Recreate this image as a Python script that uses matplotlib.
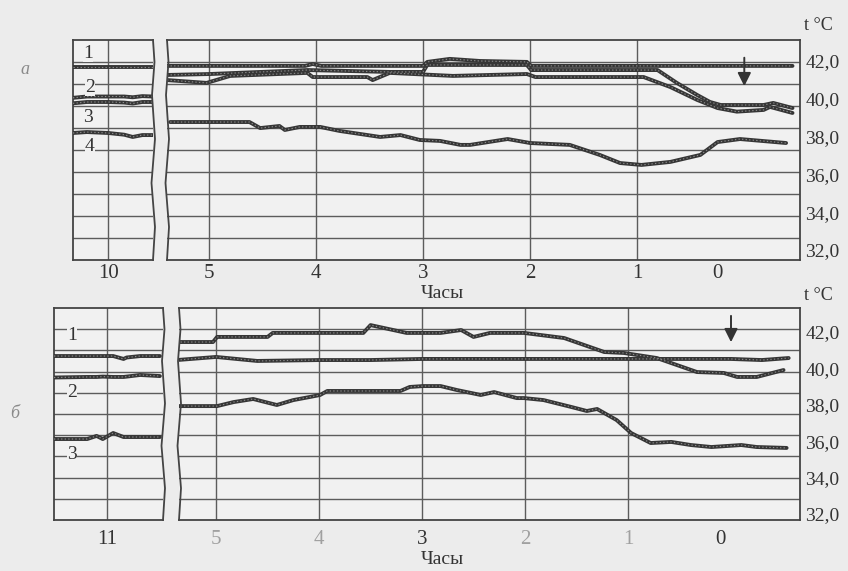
import numpy as np
import matplotlib
matplotlib.use('Agg')
import matplotlib.pyplot as plt

plt.rcParams['font.family'] = ['Liberation Serif', 'DejaVu Serif']

W, H = 848, 571
BG = '#ececec'
PAPER = '#f1f1f1'
INK = '#363636'
GRID = '#5c5c5c'

# ── Panel а: strip at 10 h ──────────────────────────────────────────
A_L_HOURS = [10.33, 10.20, 10.00, 9.85, 9.77, 9.68, 9.58]
A_L_T1 = [41.68, 41.68, 41.68, 41.68, 41.68, 41.68, 41.68]
A_L_T2 = [40.05, 40.12, 40.12, 40.12, 40.08, 40.14, 40.12]
A_L_T3 = [39.76, 39.83, 39.83, 39.80, 39.75, 39.83, 39.83]
A_L_T4 = [38.19, 38.24, 38.19, 38.10, 37.98, 38.08, 38.08]

# ── Panel а: last 5 h ───────────────────────────────────────────────
A_T1_H = [5.39, 4.10, 4.03, 3.95, 3.00, 2.96, 2.75, 2.47, 2.03, 1.99, 1.00, 0.00, -0.45]
A_T1_V = [41.74, 41.74, 41.84, 41.74, 41.74, 41.95, 42.11, 42.00, 41.95, 41.74, 41.74, 41.74, 41.74]
A_T2_H = [5.39, 4.99, 4.08, 3.31, 3.00, 2.96, 2.50, 2.03, 1.99, 0.81, 0.63, 0.44,
          0.32, 0.22, -0.18, -0.27, -0.45]
A_T2_V = [41.26, 41.31, 41.52, 41.42, 41.42, 41.79, 41.79, 41.79, 41.52, 41.52, 40.84, 40.20,
          39.83, 39.67, 39.67, 39.78, 39.51]
A_T3_H = [5.39, 5.02, 4.80, 4.08, 4.03, 3.52, 3.47, 3.31, 2.72, 2.03, 1.95, 0.94, 0.69,
          0.44, 0.25, 0.07, -0.18, -0.24, -0.45]
A_T3_V = [40.99, 40.84, 41.21, 41.37, 41.15, 41.15, 40.99, 41.37, 41.21, 41.31, 41.15, 41.15, 40.62,
          39.94, 39.51, 39.32, 39.41, 39.57, 39.25]
A_T4_H = [5.36, 4.62, 4.52, 4.34, 4.29, 4.15, 3.96, 3.78, 3.40, 3.21, 3.03, 2.84, 2.65, 2.56,
          2.21, 2.00, 1.63, 1.35, 1.16, 0.96, 0.69, 0.41, 0.25, 0.04, -0.39]
A_T4_V = [38.77, 38.77, 38.45, 38.56, 38.35, 38.51, 38.51, 38.30, 37.98, 38.08, 37.82, 37.77, 37.56, 37.56,
          37.87, 37.66, 37.56, 37.03, 36.60, 36.50, 36.66, 37.03, 37.71, 37.87, 37.66]

# ── Panel б: strip at 11 h ──────────────────────────────────────────
B_L_HOURS = [11.51, 11.19, 11.10, 11.04, 10.94, 10.84, 10.81, 10.68, 10.49]
B_L_T1 = [40.68, 40.68, 40.68, 40.68, 40.68, 40.52, 40.60, 40.68, 40.68]
B_L_T2 = [39.50, 39.53, 39.53, 39.55, 39.53, 39.53, 39.55, 39.64, 39.58]
B_L_T3 = [36.12, 36.12, 36.29, 36.12, 36.45, 36.23, 36.23, 36.23, 36.23]

# ── Panel б: last 5 h ───────────────────────────────────────────────
B_T1_H = [5.38, 5.03, 4.99, 4.50, 4.45, 3.57, 3.50, 3.28, 3.15, 2.82, 2.62, 2.50, 2.34,
          2.01, 1.62, 1.23, 1.04, 0.72, 0.33, 0.07, -0.06, -0.25, -0.51]
B_T1_V = [41.45, 41.45, 41.73, 41.73, 41.95, 41.95, 42.38, 42.11, 41.95, 41.95, 42.11, 41.73, 41.95,
          41.95, 41.67, 40.90, 40.85, 40.57, 39.80, 39.75, 39.53, 39.53, 39.91]
B_T2_H = [5.38, 5.00, 4.60, 4.00, 3.50, 3.00, 2.00, 1.00, 0.00, -0.30, -0.56]
B_T2_V = [40.46, 40.63, 40.41, 40.46, 40.46, 40.52, 40.52, 40.52, 40.52, 40.46, 40.57]
B_T3_H = [5.38, 4.99, 4.83, 4.64, 4.41, 4.25, 4.09, 3.99, 3.92, 3.21, 3.12, 2.99, 2.82, 2.66,
          2.43, 2.30, 2.08, 2.01, 1.82, 1.55, 1.40, 1.30, 1.11, 0.97, 0.78, 0.58, 0.39, 0.19,
          -0.10, -0.25, -0.54]
B_T3_V = [37.93, 37.93, 38.15, 38.32, 37.99, 38.26, 38.43, 38.54, 38.76, 38.76, 38.98, 39.03, 39.03, 38.81,
          38.54, 38.70, 38.37, 38.37, 38.26, 37.88, 37.66, 37.77, 37.16, 36.45, 35.90, 35.96, 35.79, 35.68,
          35.79, 35.68, 35.63]

# ── Axis labels ─────────────────────────────────────────────────────
T_TICKS = [42, 40, 38, 36, 34, 32]
T_LABELS = ['42,0', '40,0', '38,0', '36,0', '34,0', '32,0']
HOUR_LABELS = ['5', '4', '3', '2', '1', '0']
A_HOUR_POS = [5, 4, 3, 2, 1, 0.25]
B_HOUR_POS = [5, 4, 3, 2, 1, 0.1]
A_EVENT = (0.0, 42.32, 40.52)   # arrow: hour, from, to
B_EVENT = (0.0, 43.04, 41.29)


def px_axes(x0, y0, x1, y1):
    return fig.add_axes([x0 / W, 1 - y1 / H, (x1 - x0) / W, (y1 - y0) / H])


def trace(ax, h, v):
    ax.plot(h, v, color=INK, lw=2.8, solid_capstyle='round', zorder=3)
    ax.plot(h, v, color='#8c8c8c', lw=0.8, ls=(0, (1.2, 2.0)), zorder=4)


def frame(ax, xlim, ylim, vlines, cut):
    ax.set_facecolor(PAPER)
    ax.set_xlim(*xlim)
    ax.set_ylim(*ylim)
    for y in np.linspace(ylim[0], ylim[1], 11)[1:-1]:
        ax.axhline(y, color=GRID, lw=1.0, zorder=1)
    for x in vlines:
        ax.axvline(x, color=GRID, lw=1.0, zorder=1)
    for s in ax.spines.values():
        s.set_color('#444444')
        s.set_linewidth(1.3)
    ax.spines[cut].set_visible(False)
    # torn edge of the strip
    wpx = ax.get_position().width * W
    ys = [0.0, 0.15, 0.35, 0.55, 0.75, 0.9, 1.0]
    offs = [0, 2, -1.5, 2, -1, 1.5, 0]
    base = 1.0 if cut == 'right' else 0.0
    ax.plot([base + o / wpx for o in offs], ys, color='#444444', lw=1.3,
            transform=ax.transAxes, clip_on=False, zorder=5)
    ax.tick_params(axis='both', length=0)
    ax.set_yticks([])


fig = plt.figure(figsize=(W / 100, H / 100), dpi=100)
fig.patch.set_facecolor(BG)

# ── Panel а ─────────────────────────────────────────────────────────
ylim_a = (31.47, 43.11)
axl = px_axes(73, 40, 153, 260)
axr = px_axes(167, 40, 800, 260)
frame(axl, (10.33, 9.58), ylim_a, [10], 'right')
frame(axr, (5.39, -0.52), ylim_a, [5, 4, 3, 2, 1], 'left')
for t in (A_L_T1, A_L_T2, A_L_T3, A_L_T4):
    trace(axl, A_L_HOURS, t)
for h, v in ((A_T1_H, A_T1_V), (A_T2_H, A_T2_V), (A_T3_H, A_T3_V), (A_T4_H, A_T4_V)):
    trace(axr, h, v)
axl.set_xticks([10], ['10'])
axr.set_xticks(A_HOUR_POS, HOUR_LABELS)
for ax in (axl, axr):
    ax.tick_params(axis='x', labelsize=15, pad=3, colors='#333333')
axr.yaxis.tick_right()
axr.set_yticks(T_TICKS, T_LABELS)
axr.tick_params(axis='y', length=0, pad=4, labelsize=14, colors='#333333')
axr.annotate('', xy=(A_EVENT[0], A_EVENT[2]), xytext=(A_EVENT[0], A_EVENT[1]),
             arrowprops=dict(arrowstyle='-|>', color='#333333', lw=1.4, mutation_scale=20),
             zorder=6)
for lab, (fx, fy) in zip('1234', [(0.125, 0.94), (0.15, 0.785), (0.125, 0.65), (0.15, 0.515)]):
    axl.text(fx, fy, lab, transform=axl.transAxes, fontsize=14, color='#333333',
             ha='left', va='center', zorder=7,
             bbox=dict(fc=PAPER, ec='none', pad=0.3))

# ── Panel б ─────────────────────────────────────────────────────────
ylim_b = (31.67, 43.32)
bxl = px_axes(54, 308, 163, 520)
bxr = px_axes(179, 308, 800, 520)
frame(bxl, (11.51, 10.46), ylim_b, [11], 'right')
frame(bxr, (5.36, -0.67), ylim_b, [5, 4, 3, 2, 1], 'left')
for t in (B_L_T1, B_L_T2, B_L_T3):
    trace(bxl, B_L_HOURS, t)
for h, v in ((B_T1_H, B_T1_V), (B_T2_H, B_T2_V), (B_T3_H, B_T3_V)):
    trace(bxr, h, v)
bxl.set_xticks([11], ['11'])
bxr.set_xticks(B_HOUR_POS, HOUR_LABELS)
for ax in (bxl, bxr):
    ax.tick_params(axis='x', labelsize=15, pad=7, colors='#333333')
# faded print on some hour labels
for lbl in bxr.get_xticklabels():
    if lbl.get_text() in ('5', '4', '2', '1'):
        lbl.set_color('#a0a0a0')
bxr.yaxis.tick_right()
bxr.set_yticks(T_TICKS, T_LABELS)
bxr.tick_params(axis='y', length=0, pad=4, labelsize=14, colors='#333333')
bxr.annotate('', xy=(B_EVENT[0], B_EVENT[2]), xytext=(B_EVENT[0], B_EVENT[1]),
             arrowprops=dict(arrowstyle='-|>', color='#333333', lw=1.4, mutation_scale=20),
             zorder=6)
for lab, (fx, fy) in zip('123', [(0.12, 0.87), (0.12, 0.60), (0.12, 0.31)]):
    bxl.text(fx, fy, lab, transform=bxl.transAxes, fontsize=14, color='#333333',
             ha='left', va='center', zorder=7,
             bbox=dict(fc=PAPER, ec='none', pad=0.3))

# ── Figure texts ────────────────────────────────────────────────────
for y in (25, 296):
    fig.text(804 / W, 1 - y / H, 't °C', fontsize=13, color='#333333', ha='left', va='center')
for y in (294, 560):
    fig.text(442 / W, 1 - y / H, 'Часы', fontsize=14, color='#333333', ha='center', va='center')
fig.text(25 / W, 1 - 70 / H, 'а', fontsize=13, style='italic', color='#8a8a8a', ha='center', va='center')
fig.text(15 / W, 1 - 413 / H, 'б', fontsize=13, style='italic', color='#8a8a8a', ha='center', va='center')

fig.savefig('out.png', dpi=100, facecolor=BG)
